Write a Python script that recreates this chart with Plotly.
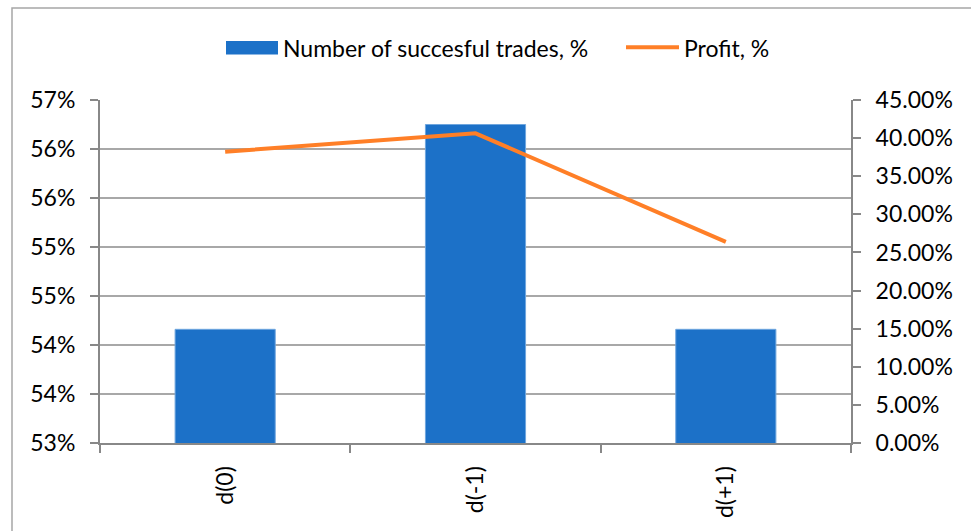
import plotly.graph_objects as go

categories = ["d(0)", "d(-1)", "d(+1)"]
successful_trades = [54.16, 56.25, 54.16]      # left axis, %
profit = [0.3822, 0.4063, 0.2638]              # right axis, fraction
left_tickvals = [53, 53.5, 54, 54.5, 55, 55.5, 56, 56.5]
left_ticktext = ["53%", "54%", "54%", "55%", "55%", "56%", "56%", "57%"]
right_tickvals = [0, 0.05, 0.10, 0.15, 0.20, 0.25, 0.30, 0.35, 0.40, 0.45]
series_names = ["Number of succesful trades, %", "Profit, %"]

BLUE = "#1C71C8"
ORANGE = "#FF7F27"
GRID = "#A8A8A8"
AXIS = "#888888"
FONT = "Lato"
FS = 23

W, H = 971, 531
L, R, T, B = 100, 120, 100, 88
pw, ph = W - L - R, H - T - B


def px_x(x):
    return (x - L) / pw


def px_y(y):
    return (H - B - y) / ph


fig = go.Figure()
fig.add_trace(go.Bar(
    x=categories, y=successful_trades, name=series_names[0],
    marker=dict(color=BLUE, line=dict(color="#6FA6DE", width=1)),
    width=0.4, yaxis="y", showlegend=False,
))
fig.add_trace(go.Scatter(
    x=categories, y=profit, name=series_names[1], mode="lines",
    line=dict(color=ORANGE, width=4), yaxis="y2", showlegend=False,
))

fig.update_layout(
    width=W, height=H,
    margin=dict(l=L, r=R, t=T, b=B, pad=0),
    paper_bgcolor="white", plot_bgcolor="white",
    font=dict(family=FONT, size=FS, color="#000000"),
    xaxis=dict(
        type="category", tickangle=-90, showgrid=False,
        showline=True, linecolor=AXIS, linewidth=2,
        ticks="outside", tickson="boundaries", ticklen=8, tickcolor=AXIS, tickwidth=1.5,
        tickfont=dict(size=FS), ticklabelstandoff=12,
    ),
    yaxis=dict(
        range=[53, 56.5], tickvals=left_tickvals, ticktext=left_ticktext,
        showgrid=True, gridcolor=GRID, gridwidth=1.5,
        showline=True, linecolor=AXIS, linewidth=2,
        ticks="outside", ticklen=8, tickcolor=AXIS, tickwidth=1.5,
        ticklabelstandoff=10, zeroline=False,
    ),
    yaxis2=dict(
        overlaying="y", side="right", range=[0, 0.45],
        tickvals=right_tickvals, tickformat=".2%",
        showgrid=False, showline=True, linecolor=AXIS, linewidth=2,
        ticks="outside", ticklen=8, tickcolor=AXIS, tickwidth=1.5,
        ticklabelstandoff=10, zeroline=False,
    ),
)

# outer chart border (Excel-like chart area), clipped by the window on right/bottom
fig.add_shape(type="rect", xref="paper", yref="paper",
              x0=px_x(12), x1=px_x(W + 20), y0=px_y(H + 20), y1=px_y(8),
              line=dict(color="#A6A6A6", width=1.5), fillcolor="rgba(0,0,0,0)",
              layer="below")

# custom legend
fig.add_shape(type="rect", xref="paper", yref="paper",
              x0=px_x(226), x1=px_x(278), y0=px_y(54.5), y1=px_y(41),
              line=dict(width=0), fillcolor=BLUE)
fig.add_annotation(xref="paper", yref="paper", x=px_x(281), y=px_y(48),
                   text=series_names[0], showarrow=False,
                   xanchor="left", yanchor="middle", font=dict(size=FS))
fig.add_shape(type="line", xref="paper", yref="paper",
              x0=px_x(626), x1=px_x(679), y0=px_y(47.3), y1=px_y(47.3),
              line=dict(color=ORANGE, width=4))
fig.add_annotation(xref="paper", yref="paper", x=px_x(682), y=px_y(48),
                   text=series_names[1], showarrow=False,
                   xanchor="left", yanchor="middle", font=dict(size=FS))

fig.write_html("out.html")
